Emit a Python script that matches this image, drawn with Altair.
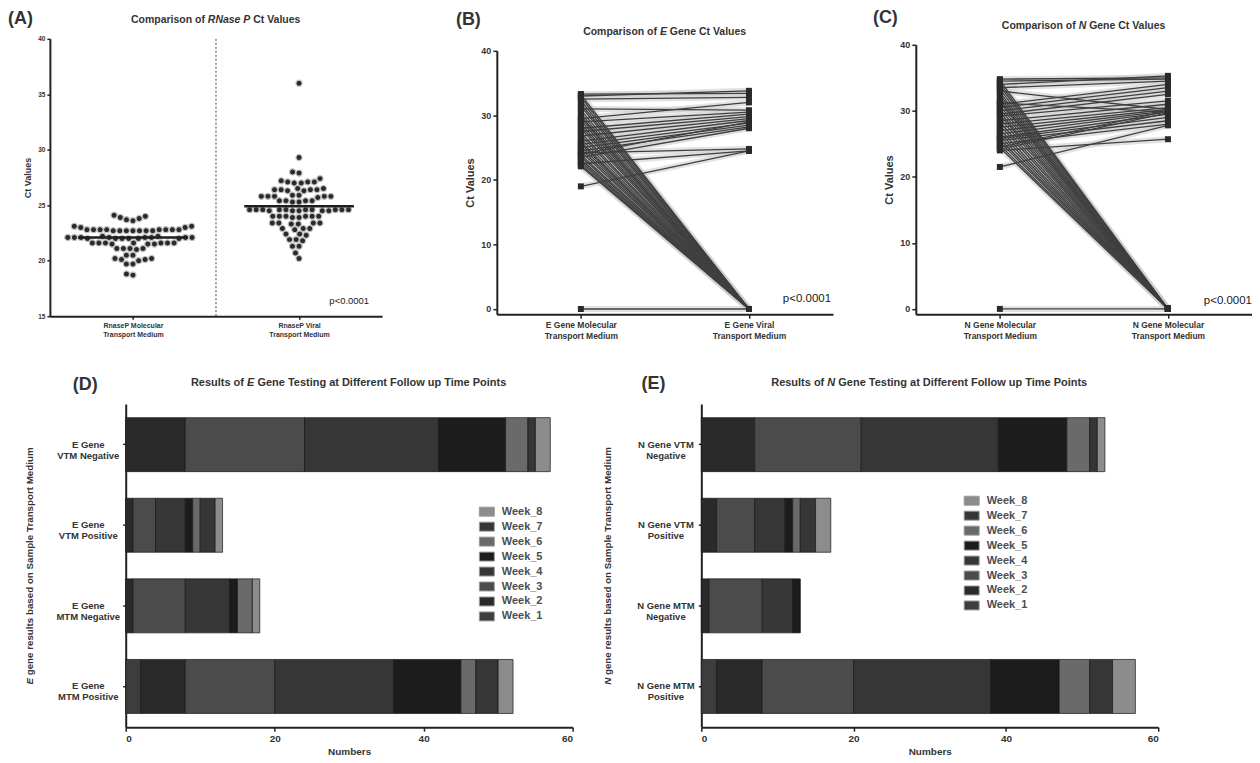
import altair as alt
import pandas as pd

FONT = "Liberation Sans"
INK = "#222222"
TXT = "#333333"

# ---------------- Panel A: RNase P Ct values ----------------
rnasep_mtm = [24.1, 24.0, 23.9, 23.8, 23.7, 23.6,
              23.1, 23.1, 23.0, 23.0,
              22.8, 22.8, 22.8, 22.8, 22.8, 22.7, 22.7, 22.7, 22.7, 22.7, 22.8, 22.8, 22.7, 22.7, 22.8,
              22.2, 22.1, 22.1, 22.1, 22.0, 22.0, 22.0, 22.1, 22.1, 22.0, 22.1, 22.2, 22.0, 22.1, 22.0, 22.1,
              21.6, 21.6, 21.5, 21.6, 21.6, 21.5, 21.6, 21.6, 21.5, 21.6,
              21.1, 21.1, 21.0, 21.1, 21.1,
              20.5, 20.5,
              20.2, 20.1, 20.1, 20.0, 20.2,
              19.7, 19.7,
              18.8, 18.7]
rnasep_vtm = [36.0, 29.3, 28.0, 27.9, 27.4,
              27.1, 27.1, 27.0, 27.1, 27.2, 27.0,
              26.4, 26.4, 26.5, 26.3, 26.4, 26.4, 26.5, 26.3,
              25.8, 25.8, 25.9, 25.8, 25.7, 25.8, 25.8, 25.9,
              25.4, 25.4, 25.3, 25.4, 25.4, 25.3,
              24.6, 24.6, 24.5, 24.6, 24.6, 24.5, 24.6, 24.6, 24.5, 24.6, 24.6, 24.5, 24.6, 24.6, 24.5,
              24.0, 24.0, 23.9, 24.0, 24.0, 23.9, 24.0, 24.0,
              23.4, 23.4, 23.3, 23.4, 23.4, 23.3,
              22.9, 22.9, 22.8, 22.9,
              22.4, 22.4, 22.3,
              21.9, 21.9, 21.8,
              21.3, 21.3,
              20.7, 20.2]
rnasep_median = [22.1, 24.9]
rnasep_labels = ["RnaseP Molecular|Transport Medium", "RnaseP Viral|Transport Medium"]

# ---------------- Panel B: E gene paired Ct values ----------------
egene_mtm = [33.3, 33.0, 32.5, 29.5, 31.0, 29.0, 28.0, 27.5, 26.8, 26.0, 25.5, 25.0, 24.5, 24.0, 23.5, 24.2, 22.5, 19.0,
             33.2, 32.8, 32.3, 31.8, 31.4, 30.8, 30.3, 29.9, 29.6, 29.2, 28.7, 28.3, 27.9, 27.3, 26.9, 26.4,
             25.9, 25.6, 25.2, 24.8, 24.4, 23.9, 23.6, 23.2, 22.9, 22.6, 22.3, 22.1,
             0.0]
egene_vtm = [33.4, 33.8, 32.8, 32.0, 30.8, 30.5, 30.2, 29.8, 29.5, 29.2, 28.8, 28.5, 28.2, 29.0, 28.0, 24.8, 24.5, 24.5,
             0.0, 0.0, 0.0, 0.0, 0.0, 0.0, 0.0, 0.0, 0.0, 0.0, 0.0, 0.0, 0.0, 0.0, 0.0, 0.0,
             0.0, 0.0, 0.0, 0.0, 0.0, 0.0, 0.0, 0.0, 0.0, 0.0, 0.0, 0.0,
             0.0]
egene_labels = ["E Gene Molecular|Transport Medium", "E Gene Viral|Transport Medium"]

# ---------------- Panel C: N gene paired Ct values ----------------
ngene_mtm = [34.8, 34.5, 34.0, 33.5, 31.0, 30.5, 30.0, 29.5, 29.2, 28.5, 28.0, 27.5, 27.0, 26.5, 26.0, 25.8,
             25.5, 25.0, 24.5, 24.2, 24.0, 21.5, 31.2, 33.0,
             34.6, 34.2, 33.8, 33.3, 32.8, 32.4, 32.0, 31.6, 31.3, 30.8, 30.3, 29.8, 29.4, 28.9, 28.3, 27.8,
             27.2, 26.7, 26.2, 25.7, 25.3, 24.8, 24.4,
             0.0]
ngene_vtm = [35.0, 34.8, 35.3, 34.5, 34.0, 33.5, 33.0, 32.5, 31.5, 31.0, 30.5, 30.2, 30.0, 29.8, 29.5, 29.0,
             28.5, 28.0, 30.0, 29.7, 25.7, 27.8, 29.8, 30.2,
             0.0, 0.0, 0.0, 0.0, 0.0, 0.0, 0.0, 0.0, 0.0, 0.0, 0.0, 0.0, 0.0, 0.0, 0.0, 0.0,
             0.0, 0.0, 0.0, 0.0, 0.0, 0.0, 0.0,
             0.0]
ngene_labels = ["N Gene Molecular|Transport Medium", "N Gene Molecular|Transport Medium"]

# ---------------- Panels D / E: follow-up weeks ----------------
weeks = ["Week_1", "Week_2", "Week_3", "Week_4", "Week_5", "Week_6", "Week_7", "Week_8"]
week_colors = ["#3d3d3d", "#2a2a2a", "#4b4b4b", "#363636", "#1c1c1c", "#6a6a6a", "#363636", "#8c8c8c"]

e_categories = ["E Gene|VTM Negative", "E Gene|VTM Positive", "E Gene|MTM Negative", "E Gene|MTM Positive"]
e_vtm_negative = [0, 8, 16, 18, 9, 3, 1, 2]
e_vtm_positive = [0, 1, 3, 4, 1, 1, 2, 1]
e_mtm_negative = [0, 1, 7, 6, 1, 2, 0, 1]
e_mtm_positive = [2, 6, 12, 16, 9, 2, 3, 2]

n_categories = ["N Gene VTM|Negative", "N Gene VTM|Positive", "N Gene MTM|Negative", "N Gene MTM|Positive"]
n_vtm_negative = [0, 7, 14, 18, 9, 3, 1, 1]
n_vtm_positive = [0, 2, 5, 4, 1, 1, 2, 2]
n_mtm_negative = [0, 1, 7, 4, 1, 0, 0, 0]
n_mtm_positive = [2, 6, 12, 18, 9, 4, 3, 3]

# ---------------- helpers ----------------
CW = {' ': 278, '(': 333, ')': 333, '<': 584, '.': 278, '_': 556,
      'A': 722, 'B': 722, 'C': 722, 'D': 722, 'E': 667, 'F': 611, 'G': 778, 'M': 833, 'N': 722,
      'P': 667, 'R': 722, 'S': 667, 'T': 611, 'V': 667, 'W': 944,
      'a': 556, 'b': 611, 'c': 556, 'd': 611, 'e': 556, 'f': 333, 'g': 611, 'h': 611, 'i': 278,
      'k': 556, 'l': 278, 'm': 889, 'n': 611, 'o': 611, 'p': 611, 'r': 389, 's': 556, 't': 333,
      'u': 611, 'v': 556, 'w': 778, 'y': 556}


def tw(s, size):
    return sum(CW.get(c, 556) for c in s) * size / 1000.0


def txt(s, x, y, size, weight="bold", align="left", color=TXT, angle=0, italic=False, baseline="middle"):
    kw = dict(text=s, fontSize=size, fontWeight=weight, align=align, baseline=baseline, color=color, font=FONT)
    if angle:
        kw["angle"] = angle
    if italic:
        kw["fontStyle"] = "italic"
    return alt.Chart(pd.DataFrame({"k": [0]})).mark_text(**kw).encode(x=alt.value(x), y=alt.value(y))


def rich(parts, cx, cy, size, angle=0, color=TXT):
    gap = tw(" ", size)
    total = sum(tw(p, size) for p, _ in parts) + gap * (len(parts) - 1)
    pos = -total / 2
    out = []
    for p, it in parts:
        if angle == 0:
            out.append(txt(p, cx + pos, cy, size, italic=it, color=color))
        else:
            out.append(txt(p, cx, cy - pos, size, italic=it, angle=270, color=color))
        pos += tw(p, size) + gap
    return out


def axis_style(**kw):
    base = dict(grid=False, domainColor=INK, domainWidth=2, tickColor=INK, tickWidth=1.5,
                labelFont=FONT, labelFontWeight="bold", labelColor=TXT,
                titleFont=FONT, titleFontWeight="bold", titleColor=TXT)
    base.update(kw)
    return alt.Axis(**base)


def cat_expr(labels):
    a, b = labels
    return f"datum.value < 1 ? split('{a}', '|') : split('{b}', '|')"


def swarm_offsets(vals, d, pxy):
    order = sorted(range(len(vals)), key=lambda i: vals[i])
    placed = []
    offs = [0.0] * len(vals)
    for i in order:
        y = vals[i] * pxy
        cands = [0.0]
        for px, py in placed:
            dy = abs(py - y)
            if dy < d:
                dx = (d * d - dy * dy) ** 0.5
                cands += [px + dx, px - dx]
        cands.sort(key=lambda c: (abs(c), c))
        chosen = 0.0
        for c in cands:
            if all((c - px) ** 2 + (y - py) ** 2 >= d * d - 1e-6 for px, py in placed):
                chosen = c
                break
        placed.append((chosen, y))
        offs[i] = chosen
    return offs


LETTER = 18

# ---------------- Panel A ----------------
A_W, A_H = 333, 278
pxy = A_H / 25.0
pxx = A_W / 2.0
rows = []
for center, vals in ((0.5, rnasep_mtm), (1.5, rnasep_vtm)):
    offs = swarm_offsets(vals, 6.6, pxy)
    for v, o in zip(vals, offs):
        rows.append({"x": center + o / pxx, "ct": v})
dfA = pd.DataFrame(rows)
dfA_med = pd.DataFrame({"x0": [0.5 - 0.33, 1.5 - 0.33], "x1": [0.5 + 0.33, 1.5 + 0.33], "ct": rnasep_median})

xA = alt.X("x:Q", scale=alt.Scale(domain=[0, 2], nice=False, zero=False),
           axis=axis_style(values=[0.5, 1.5], labelExpr=cat_expr(rnasep_labels), title=None, tickSize=3,
                           labelFontSize=7, labelLineHeight=9, labelPadding=2))
yA = alt.Y("ct:Q", scale=alt.Scale(domain=[15, 40], nice=False, zero=False),
           axis=axis_style(values=[15, 20, 25, 30, 35, 40], title="Ct Values", titleFontSize=9, tickSize=3,
                           labelFontSize=6.5, labelPadding=2, titlePadding=5))

sepA = alt.Chart(pd.DataFrame({"k": [0]})).mark_rule(color="#444", strokeDash=[2, 2], strokeWidth=1).encode(
    x=alt.datum(1), y=alt.value(0), y2=alt.value(A_H))
ptsA = alt.Chart(dfA).mark_circle(size=38, color="#2a2a2a", opacity=1, stroke="#c4c4c4", strokeWidth=1.2).encode(xA, yA)
medA = alt.Chart(dfA_med).mark_rule(color="#1e1e1e", strokeWidth=2.5).encode(
    x=alt.X("x0:Q", scale=alt.Scale(domain=[0, 2], nice=False, zero=False)), x2="x1:Q", y="ct:Q")

panelA = alt.layer(
    sepA, ptsA, medA,
    txt("p<0.0001", A_W - 13, A_H - 15, 9.5, weight="normal", align="right", color="#1a1a1a"),
    txt("(A)", -42, -20, LETTER),
    *rich([("Comparison of", False), ("RNase P", True), ("Ct Values", False)], A_W / 2, -19, 10.5),
).properties(width=A_W, height=A_H)


# ---------------- Panels B / C ----------------
GH = 276  # common group height of the top row


def paired_panel(mtm, vtm, labels, letter, gene, W, top, letter_xy, p_xy):
    rows = []
    for i, (a, b) in enumerate(zip(mtm, vtm)):
        rows.append({"pair": i, "pos": 0.5, "ct": a})
        rows.append({"pair": i, "pos": 1.5, "ct": b})
    df = pd.DataFrame(rows)
    x = alt.X("pos:Q", scale=alt.Scale(domain=[0, 2], nice=False, zero=False),
              axis=axis_style(values=[0.5, 1.5], labelExpr=cat_expr(labels), title=None, tickSize=4,
                              labelFontSize=8.5, labelLineHeight=11, labelPadding=2))
    y = alt.Y("ct:Q", scale=alt.Scale(domain=[-0.8, 40], nice=False, zero=False, range=[GH, top]),
              axis=axis_style(values=[0, 10, 20, 30, 40], title="Ct Values", titleFontSize=11, tickSize=4,
                              labelFontSize=9, labelPadding=2, titlePadding=5))
    base = alt.Chart(df)
    halo = base.mark_line(color="#cfcfcf", strokeWidth=6, opacity=0.6).encode(x, y, detail="pair:N")
    lines = base.mark_line(color="#3f3f3f", strokeWidth=1.3).encode(x, y, detail="pair:N")
    pts = base.mark_point(shape="square", filled=True, size=36, color="#2a2a2a", opacity=1).encode(x, y)
    return alt.layer(
        halo, lines, pts,
        txt("p<0.0001", p_xy[0], p_xy[1], 11.5, weight="normal", align="right", color="#1a1a1a"),
        txt(f"({letter})", letter_xy[0], letter_xy[1], LETTER),
        *rich([("Comparison of", False), (gene, True), ("Gene Ct Values", False)], W / 2, top - 19, 10.5),
    ).properties(width=W, height=GH)


panelB = paired_panel(egene_mtm, egene_vtm, egene_labels, "B", "E", 337, 12, (-41, -19), (335, 261))
panelC = paired_panel(ngene_mtm, ngene_vtm, ngene_labels, "C", "N", 337, 6, (-43, -21), (337, 263))


# ---------------- Panels D / E ----------------
def bar_panel(categories, series, letter, gene, W, H, lead, legend_xy, letter_xy, ytitle_x, label_pad):
    rows = []
    for cat, counts in zip(categories, series):
        for wi, (wk, c) in enumerate(zip(weeks, counts)):
            if c > 0:
                rows.append({"group": cat, "week": wk, "widx": wi, "count": c})
    df = pd.DataFrame(rows)
    bars = alt.Chart(df).mark_bar(stroke="#161616", strokeWidth=0.7).encode(
        x=alt.X("count:Q", stack="zero", scale=alt.Scale(domain=[0, 60], nice=False, range=[lead, lead + W]),
                axis=axis_style(values=[0, 20, 40, 60], title="Numbers", titleFontSize=10, tickSize=4,
                                labelFontSize=10, labelPadding=2, titlePadding=3)),
        y=alt.Y("group:N", sort=categories, scale=alt.Scale(paddingInner=0.33, paddingOuter=0.17),
                axis=axis_style(title=None, labelExpr="split(datum.value, '|')", labelAlign="center",
                                labelBaseline="middle", labelFontSize=9.5, labelLineHeight=11, tickSize=3,
                                labelPadding=label_pad, offset=-lead)),
        color=alt.Color("week:N", scale=alt.Scale(domain=weeks[::-1], range=week_colors[::-1]),
                        legend=alt.Legend(orient="none", legendX=lead + legend_xy[0], legendY=legend_xy[1],
                                          title=None, symbolType="M-1,-0.6L1,-0.6L1,0.6L-1,0.6Z", symbolSize=225,
                                          symbolStrokeColor="#9a9a9a", symbolStrokeWidth=1,
                                          labelFont=FONT, labelFontSize=11, labelFontWeight="bold",
                                          labelColor="#4d4d4d", rowPadding=0, labelOffset=7, padding=0)),
        order=alt.Order("widx:Q", sort="ascending"),
    )
    layers = [bars,
              txt(f"({letter})", lead + letter_xy[0], letter_xy[1], LETTER),
              *rich([("Results of", False), (gene, True),
                     ("Gene Testing at Different Follow up Time Points", False)], lead + W / 2, -21, 11),
              *rich([(gene, True), ("gene results based on Sample Transport Medium", False)],
                    lead + ytitle_x, H / 2, 9.8, angle=270)]
    return alt.layer(*layers).properties(width=lead + W, height=H)


panelD = bar_panel(e_categories, [e_vtm_negative, e_vtm_positive, e_mtm_negative, e_mtm_positive],
                   "D", "E", 448, 324, 76, (354, 100), (-53, -19), -96, 35)
panelE = bar_panel(n_categories, [n_vtm_negative, n_vtm_positive, n_mtm_negative, n_mtm_positive],
                   "E", "N", 458, 324, 0, (263, 89), (-60, -20), -94, 33)

top = alt.hconcat(alt.hconcat(panelA, panelB, spacing=74), panelC, spacing=40)
bottom = alt.hconcat(panelD, panelE, spacing=29).resolve_scale(color="independent")

chart = (
    alt.vconcat(top, bottom, spacing=35)
    .properties(padding=0)
    .configure(background="white", font=FONT)
    .configure_view(strokeWidth=0, strokeOpacity=0)
)

chart.save("out.html", embed_options={"renderer": "svg", "actions": False})
